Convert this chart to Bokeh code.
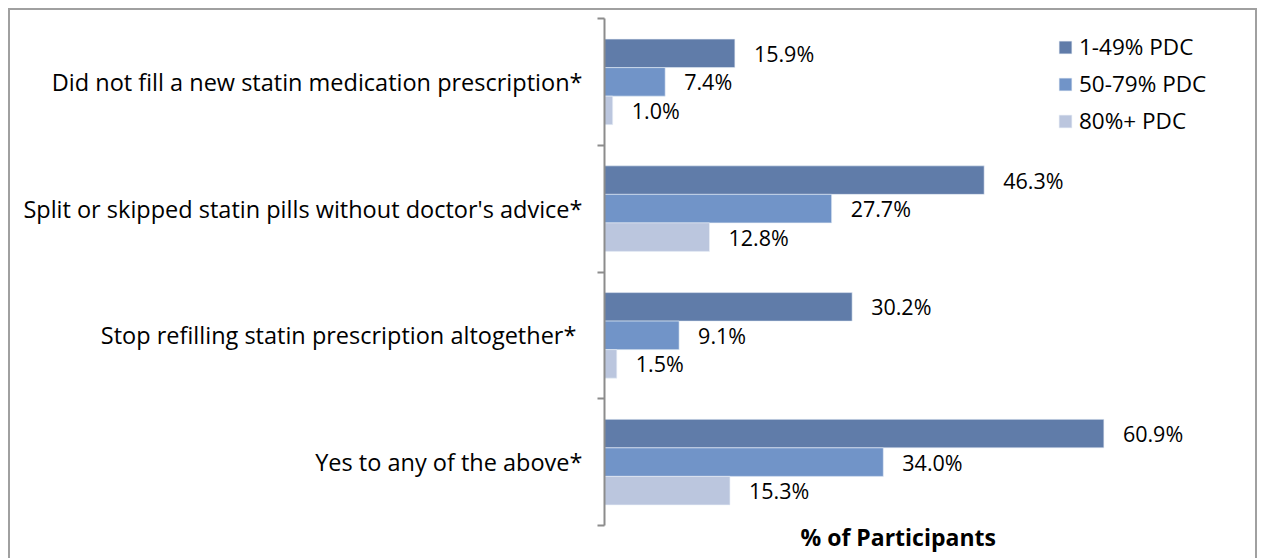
from bokeh.plotting import figure
from bokeh.models import (Range1d, FixedTicker, Legend, LegendItem, ColumnDataSource,
                          InlineStyleSheet, Title)
from bokeh.core.properties import value
from bokeh.embed import file_html
from bokeh.resources import INLINE

categories = [
    "Did not fill a new statin medication prescription*",
    "Split or skipped statin pills without doctor's advice*",
    "Stop refilling  statin prescription altogether*",
    "Yes to any of the above*",
]
series_names = ["1-49% PDC", "50-79% PDC", "80%+ PDC"]
pdc_1_49 = [15.9, 46.3, 30.2, 60.9]
pdc_50_79 = [7.4, 27.7, 9.1, 34.0]
pdc_80_plus = [1.0, 12.8, 1.5, 15.3]
x_label = "% of Participants"

colors = ["#607CA9", "#7194C8", "#BBC6DE"]
FONT = "Open Sans"

n = len(categories)
centers = [n - i - 0.5 for i in range(n)]
bar_h = 0.225
offsets = [bar_h, 0.0, -bar_h]

W, H = 1264, 558
frame_left, frame_right, frame_top, frame_bottom = 604, 1260, 18, 525

p = figure(width=W, height=H, output_backend="svg", toolbar_location=None,
           x_range=Range1d(0, 80), y_range=Range1d(0, n),
           min_border_left=frame_left, min_border_right=W - frame_right,
           min_border_top=frame_top, min_border_bottom=H - frame_bottom)
p.outline_line_color = None
p.xgrid.visible = False
p.ygrid.visible = False
p.background_fill_color = "white"
p.border_fill_color = "white"

renderers = []
for vals, off, col in zip([pdc_1_49, pdc_50_79, pdc_80_plus], offsets, colors):
    ys = [c + off for c in centers]
    src = ColumnDataSource(dict(y=ys, right=vals,
                                lab=[f"{v:.1f}%" for v in vals]))
    r = p.hbar(y="y", right="right", left=0, height=bar_h, source=src,
               fill_color=col, line_color="#E8EEF6", line_width=0.6)
    renderers.append(r)
    p.text(x="right", y="y", text="lab", source=src, x_offset=19,
           text_baseline="middle", text_align="left",
           text_font=value(FONT), text_font_size="21.5px", text_color="#000000")

# y axis: labels at category centers, ticks at category boundaries
ya = p.yaxis[0]
ya.ticker = FixedTicker(ticks=centers, minor_ticks=list(range(n + 1)))
ya.major_label_overrides = {c: categories[i] for i, c in enumerate(centers)}
ya.major_tick_line_color = None
ya.major_tick_out = 0
ya.major_tick_in = 0
ya.minor_tick_line_color = "#8C8C8C"
ya.minor_tick_line_width = 2
ya.minor_tick_out = 7
ya.minor_tick_in = 0
ya.axis_line_color = "#8C8C8C"
ya.axis_line_width = 2
ya.major_label_standoff = 15
ya.major_label_text_font = FONT
ya.major_label_text_font_size = "23.5px"
ya.major_label_text_color = "#000000"

p.xaxis.visible = False
xt = Title(text=x_label, align="left", offset=196, standoff=-10, vertical_align="top",
           text_font=FONT, text_font_style="bold", text_font_size="23px",
           text_color="#000000")
p.add_layout(xt, "below")

legend = Legend(items=[LegendItem(label=nm, renderers=[r]) for nm, r in zip(series_names, renderers)],
                location=(1057 - frame_left, frame_bottom - 136),
                padding=0, margin=0, border_line_color=None, background_fill_alpha=0,
                glyph_width=16, glyph_height=16, label_standoff=6, spacing=6,
                label_text_font=FONT, label_text_font_size="22.5px",
                label_text_color="#000000")
p.add_layout(legend, "center")

p.stylesheets = [InlineStyleSheet(css=""":host { position: relative; }
:host::after { content: ""; position: absolute; left: 8px; top: 8px; right: 7px; bottom: 0px;
  border: 2px solid #A0A0A0; border-bottom: none; pointer-events: none; }""")]

open("out.html", "w").write(file_html(p, INLINE))
